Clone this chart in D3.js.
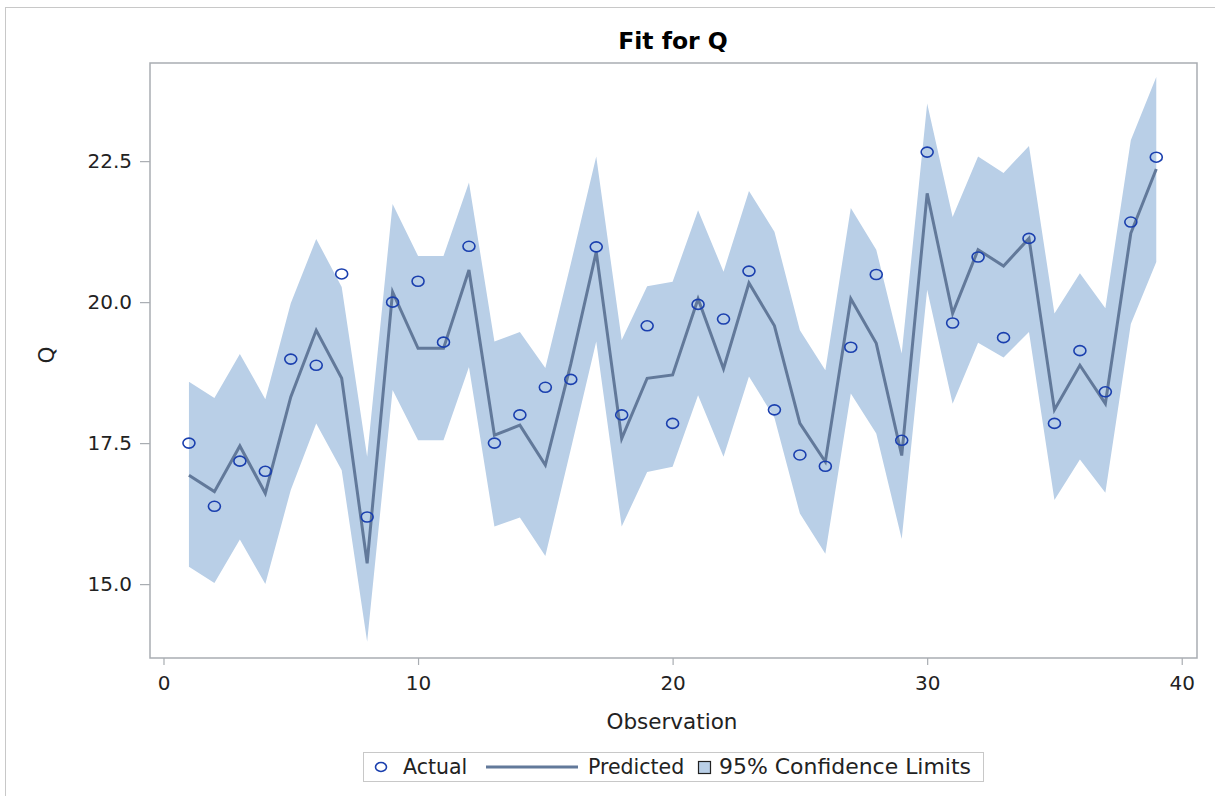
<!DOCTYPE html>
<html>
<head>
<meta charset="utf-8">
<script src="https://cdn.jsdelivr.net/npm/d3@7"></script>
<style>
  html, body { margin: 0; padding: 0; background: #fff; }
  svg { display: block; font-family: "DejaVu Sans", Verdana, sans-serif; }
</style>
</head>
<body>
<svg id="chart" width="1215" height="796"></svg>
<script>
// Observation numbers 1..39
const observations = [1,2,3,4,5,6,7,8,9,10,11,12,13,14,15,16,17,18,19,20,
  21,22,23,24,25,26,27,28,29,30,31,32,33,34,35,36,37,38,39];

// Observed Q
const actual = [17.50,16.38,17.18,17.00,18.99,18.88,20.50,16.19,20.00,20.37,
  19.29,20.99,17.50,18.00,18.49,18.63,20.98,18.00,19.58,17.85,
  19.96,19.70,20.55,18.09,17.29,17.09,19.20,20.49,17.55,22.66,
  19.63,20.80,19.37,21.13,17.85,19.14,18.41,21.42,22.57];

// Fitted Q
const predicted = [16.93,16.64,17.45,16.61,18.32,19.50,18.65,15.37,20.18,19.18,
  19.18,20.57,17.64,17.82,17.11,18.90,20.89,17.58,18.65,18.71,
  20.06,18.82,20.34,19.58,17.85,17.17,20.06,19.27,17.28,21.93,
  19.80,20.93,20.64,21.13,18.09,18.88,18.20,21.22,22.36];

// 95% confidence limits
const upper = [18.59,18.30,19.08,18.28,19.98,21.12,20.27,17.26,21.74,20.82,
  20.82,22.12,19.30,19.47,18.83,20.68,22.58,19.33,20.28,20.36,
  21.63,20.54,21.97,21.25,19.50,18.79,21.67,20.93,19.09,23.52,
  21.51,22.58,22.29,22.77,19.80,20.51,19.89,22.87,23.99];
const lower = [15.31,15.02,15.79,15.00,16.67,17.85,17.02,13.98,18.44,17.55,
  17.55,18.85,16.02,16.18,15.50,17.39,19.30,16.02,16.99,17.08,
  18.35,17.26,18.68,17.95,16.25,15.54,18.38,17.67,15.80,20.22,
  18.20,19.28,19.02,19.47,16.49,17.21,16.62,19.61,20.71];

const xTicks = [0, 10, 20, 30, 40];
const yTicks = [15.0, 17.5, 20.0, 22.5];

const rows = observations.map((o, i) => ({
  obs: o, actual: actual[i], pred: predicted[i], lo: lower[i], hi: upper[i]
}));

const svg = d3.select("#chart");
const plot = { left: 150, top: 63, right: 1197, bottom: 658 };

const x = d3.scaleLinear().domain([-0.53, 40.6]).range([plot.left, plot.right]);
const y = d3.scaleLinear().domain([13.69, 24.24]).range([plot.bottom, plot.top]);

// outer graph frame
svg.append("rect")
  .attr("x", 5.5).attr("y", 7.5).attr("width", 1215).attr("height", 800)
  .attr("fill", "none").attr("stroke", "#c8c8c8").attr("stroke-width", 1);

// title
svg.append("text")
  .attr("x", 673).attr("y", 49)
  .attr("text-anchor", "middle")
  .attr("font-size", 23.5).attr("font-weight", "bold").attr("fill", "#000")
  .text("Fit for Q");

// confidence band
svg.append("path")
  .datum(rows)
  .attr("fill", "#b9cfe7")
  .attr("d", d3.area().x(d => x(d.obs)).y0(d => y(d.lo)).y1(d => y(d.hi)));

// fitted line
svg.append("path")
  .datum(rows)
  .attr("fill", "none")
  .attr("stroke", "#62799a")
  .attr("stroke-width", 3)
  .attr("stroke-linejoin", "miter")
  .attr("d", d3.line().x(d => x(d.obs)).y(d => y(d.pred)));

// observed values
svg.append("g").selectAll("ellipse")
  .data(rows)
  .join("ellipse")
  .attr("cx", d => x(d.obs)).attr("cy", d => y(d.actual))
  .attr("rx", 6).attr("ry", 5)
  .attr("fill", "none").attr("stroke", "#1a3fae").attr("stroke-width", 1.6);

// plot frame
svg.append("rect")
  .attr("x", plot.left).attr("y", plot.top)
  .attr("width", plot.right - plot.left).attr("height", plot.bottom - plot.top)
  .attr("fill", "none").attr("stroke", "#a9adb2").attr("stroke-width", 1.5);

// axes
const xAxis = d3.axisBottom(x).tickValues(xTicks).tickSize(7).tickPadding(11)
  .tickFormat(d3.format("d"));
const gx = svg.append("g").attr("transform", `translate(0,${plot.bottom})`).call(xAxis);
gx.select(".domain").remove();
gx.selectAll("line").attr("stroke", "#a9adb2").attr("stroke-width", 1.2);
gx.selectAll("text").attr("font-size", 20).attr("fill", "#222")
  .attr("font-family", "DejaVu Sans, Verdana, sans-serif");

const yAxis = d3.axisLeft(y).tickValues(yTicks).tickSize(10).tickPadding(8)
  .tickFormat(d3.format(".1f"));
const gy = svg.append("g").attr("transform", `translate(${plot.left},0)`).call(yAxis);
gy.select(".domain").remove();
gy.selectAll("line").attr("stroke", "#a9adb2").attr("stroke-width", 1.2);
gy.selectAll("text").attr("font-size", 20).attr("fill", "#222")
  .attr("font-family", "DejaVu Sans, Verdana, sans-serif");

// axis titles
svg.append("text")
  .attr("x", 672).attr("y", 729)
  .attr("text-anchor", "middle").attr("font-size", 21.5).attr("fill", "#222")
  .text("Observation");
svg.append("text")
  .attr("transform", "translate(54,355) rotate(-90)")
  .attr("text-anchor", "middle").attr("font-size", 21.5).attr("fill", "#222")
  .text("Q");

// legend
const legend = svg.append("g");
legend.append("rect")
  .attr("x", 363.5).attr("y", 752.5).attr("width", 620).attr("height", 29)
  .attr("fill", "#fff").attr("stroke", "#c8c8c8").attr("stroke-width", 1);
legend.append("ellipse")
  .attr("cx", 381).attr("cy", 767).attr("rx", 5.5).attr("ry", 4.5)
  .attr("fill", "none").attr("stroke", "#1a3fae").attr("stroke-width", 1.6);
legend.append("text").attr("x", 403).attr("y", 774)
  .attr("font-size", 20.5).attr("fill", "#222").text("Actual");
legend.append("line")
  .attr("x1", 486).attr("x2", 578).attr("y1", 767).attr("y2", 767)
  .attr("stroke", "#62799a").attr("stroke-width", 3);
legend.append("text").attr("x", 588).attr("y", 774)
  .attr("font-size", 20.5).attr("fill", "#222").text("Predicted");
legend.append("rect")
  .attr("x", 698.5).attr("y", 761.5).attr("width", 12).attr("height", 12)
  .attr("fill", "#b9cfe7").attr("stroke", "#222").attr("stroke-width", 1.2);
legend.append("text").attr("x", 719).attr("y", 774)
  .attr("font-size", 20.5).attr("fill", "#222")
  .attr("textLength", 252).attr("lengthAdjust", "spacingAndGlyphs")
  .text("95% Confidence Limits");
</script>
</body>
</html>
